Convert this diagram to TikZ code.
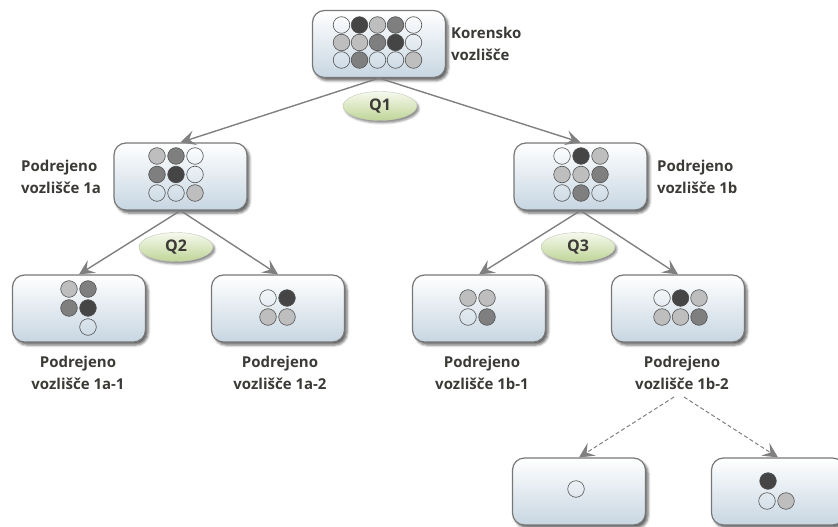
\documentclass[tikz,border=0pt]{standalone}
\usepackage{fontspec}
\setmainfont{Open Sans}
\usetikzlibrary{shapes.geometric,arrows.meta,shadows.blur,shadings}

\definecolor{boxline}{HTML}{777777}
\definecolor{boxlow}{HTML}{C7D6E2}
\definecolor{boxmid}{HTML}{EBF1F6}
\definecolor{edgegray}{HTML}{808080}
\definecolor{txt}{HTML}{3C3A36}
\definecolor{qtop}{HTML}{F6F9EE}
\definecolor{qlow}{HTML}{BFD598}
\definecolor{ballline}{HTML}{505050}
\definecolor{bD}{HTML}{454545}
\definecolor{bM}{HTML}{7F7F7F}
\definecolor{bL}{HTML}{BEBEBE}

\tikzset{
  treebox/.style={draw=boxline, line width=1.2pt, rounded corners=12pt,
    minimum width=133pt, minimum height=67pt, inner sep=0pt,
    top color=white, middle color=boxmid, bottom color=boxlow,
    blur shadow={shadow xshift=2.5pt, shadow yshift=-3pt, shadow opacity=60, shadow blur radius=2.5pt}},
  qtag/.style={ellipse, minimum width=74pt, minimum height=29pt, inner sep=0pt,
    top color=qtop, bottom color=qlow, draw=qlow!70!black!50, line width=0.4pt,
    blur shadow={shadow xshift=2pt, shadow yshift=-2.5pt, shadow opacity=45, shadow blur radius=2pt},
    font=\fontsize{16}{18}\selectfont\bfseries, text=txt},
  lbl/.style={font=\fontsize{15}{22}\selectfont\bfseries, text=txt, inner sep=0pt},
  link/.style={draw=edgegray, line width=1.4pt,
    -{Stealth[length=15pt, width=15pt, inset=6pt, fill=edgegray]}},
  dlink/.style={link, line width=1pt, dash pattern=on 4pt off 2.5pt},
  ball/.style={draw=ballline, line width=0.6pt},
}

\begin{document}
\begin{tikzpicture}[x=1pt, y=-1pt]
\useasboundingbox (0,0) rectangle (838,527);

% boxes of the tree
\node[treebox] (root) at (379,44) {};
\node[treebox] (n1a)  at (180.5,176.5) {};
\node[treebox] (n1b)  at (580.5,176.5) {};
\node[treebox] (n1a1) at (79,308.5) {};
\node[treebox] (n1a2) at (278,308.5) {};
\node[treebox] (n1b1) at (479,308.5) {};
\node[treebox] (n1b2) at (678,308.5) {};
\node[treebox] (n2a)  at (579,491.5) {};
\node[treebox] (n2b)  at (778,491.5) {};

% balls inside the boxes
\foreach \x/\y/\c in {
  341.5/25/none, 359.5/25/bD, 377.5/25/bL, 395.5/25/bM, 413.5/25/none,
  341.5/42.5/bL, 359.5/42.5/bL, 377.5/42.5/bM, 395.5/42.5/bD, 413.5/42.5/none,
  341.5/60/none, 359.5/60/bM, 377.5/60/none, 395.5/60/none, 413.5/60/bL,
  157/156/bL, 176/156/bM, 195/156/none,
  157/174.5/bM, 176/174.5/bD, 195/174.5/none,
  157/193/none, 176/193/none, 195/193/bL,
  562/156/none, 581/156/bD, 600/156/bL,
  562/174.5/bL, 581/174.5/bL, 600/174.5/bM,
  562/193/none, 581/193/bM, 600/193/none,
  69/289/bL, 88/289/bM, 69/308/bM, 88/308/bD, 88/327/none,
  268/298/none, 287/298/bD, 268/317/bL, 287/317/bL,
  468/298/bL, 487/298/bL, 468/317/none, 487/317/bM,
  662/298/none, 680.5/298/bD, 699/298/bL,
  662/317/bL, 680.5/317/bL, 699/317/bM,
  576/489/none,
  768/481/bD, 767/501/none, 786/501/bL}
  {\draw[ball, fill=\c] (\x,\y) circle[radius=8.3pt];}

% connectors
\draw[link] (root.south) -- (n1a.north);
\draw[link] (root.south) -- (n1b.north);
\draw[link] (n1a.south) -- (n1a1.north);
\draw[link] (n1a.south) -- (n1a2.north);
\draw[link] (n1b.south) -- (n1b1.north);
\draw[link] (n1b.south) -- (n1b2.north);

\coordinate (dl) at (674,397);
\coordinate (dr) at (684,397);
\draw[dlink] (dl) -- (n2a.north);
\draw[dlink] (dr) -- (n2b.north);

% question tags
\node[qtag] (q1) at (380,106) {Q1};
\node[qtag] (q2) at (176,247) {Q2};
\node[qtag] (q3) at (578,247) {Q3};

% labels
\node[lbl, anchor=west, align=left] (lroot) at (451,44) {Korensko\\vozlišče};
\node[lbl, anchor=west, align=left] (l1a) at (21,177) {Podrejeno\\vozlišče 1a};
\node[lbl, anchor=west, align=left] (l1b) at (657,177) {Podrejeno\\vozlišče 1b};
\node[lbl, align=center] (l1a1) at (78,373) {Podrejeno\\vozlišče 1a-1};
\node[lbl, align=center] (l1a2) at (280,373) {Podrejeno\\vozlišče 1a-2};
\node[lbl, align=center] (l1b1) at (482,373) {Podrejeno\\vozlišče 1b-1};
\node[lbl, align=center] (l1b2) at (682,373) {Podrejeno\\vozlišče 1b-2};
\end{tikzpicture}
\end{document}
